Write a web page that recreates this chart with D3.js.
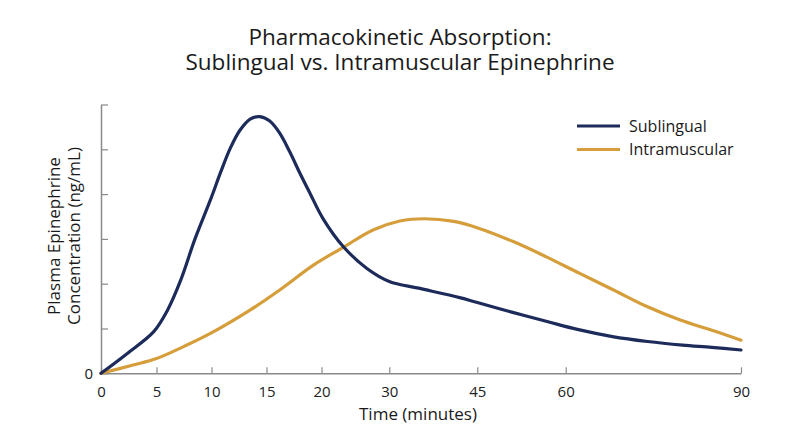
<!DOCTYPE html>
<html><head><meta charset="utf-8">
<script src="https://cdn.jsdelivr.net/npm/d3@7"></script>
<style>
html,body{margin:0;padding:0;background:#fff;}
text{font-family:"Open Sans","Noto Sans",sans-serif;}
</style></head>
<body><svg id="c" width="800" height="447"></svg>
<script>
// ---- data ----
const xTicks = [0, 5, 10, 15, 20, 30, 45, 60, 90];
const yTicks = [0, 1, 2, 3, 4, 5, 6];
const yTickLabels = ["0", "", "", "", "", "", ""];
const seriesNames = ["Sublingual", "Intramuscular"];
const titleLines = ["Pharmacokinetic Absorption:", "Sublingual vs. Intramuscular Epinephrine"];
const sublingualT = [0, 2.4, 4.75, 6, 7.2, 8.5, 9.9, 10.85, 11.7, 12.6, 13.55, 14.4, 15.3, 16.2, 17.1, 18.05, 18.95, 20.2, 23.2, 26.7, 30, 35, 42, 45, 51, 57, 62, 68, 74, 80, 85, 90];
const sublingualV = [0, 0.45, 0.93, 1.41, 2.08, 3.0, 3.87, 4.5, 5.02, 5.43, 5.68, 5.73, 5.63, 5.36, 4.95, 4.46, 4.02, 3.46, 2.83, 2.34, 2.05, 1.9, 1.69, 1.58, 1.36, 1.15, 0.98, 0.82, 0.71, 0.63, 0.58, 0.52];
const intramuscularT = [0, 2.9, 5, 7.5, 9.9, 13.5, 16.2, 19.3, 23.2, 27.6, 31.8, 36, 41, 45.2, 51.1, 56.7, 62.4, 68.2, 73.9, 79.6, 85.3, 90];
const intramuscularV = [0, 0.185, 0.33, 0.6, 0.89, 1.41, 1.86, 2.42, 2.81, 3.2, 3.40, 3.45, 3.39, 3.24, 2.94, 2.60, 2.23, 1.86, 1.49, 1.19, 0.95, 0.74];
const colors = ["#1d2b5a", "#d59e3b"];

// ---- layout ----
const svg = d3.select("#c");
const xPix = [101, 156.5, 211.5, 266.5, 321.5, 389.3, 477.3, 565.7, 741];
const x = d3.scaleLinear().domain(xTicks).range(xPix);
const y = d3.scaleLinear().domain([0, 6]).range([373.3, 104.5]);
const axisColor = "#8a8a8a";
const FONT = '"Open Sans","Noto Sans",sans-serif';

// x axis
const gx = svg.append("g").attr("transform", `translate(0,${y(0)})`)
  .call(d3.axisBottom(x).tickValues(xTicks).tickSizeInner(-6).tickSizeOuter(0).tickPadding(13).tickFormat(d3.format("d")));
gx.select(".domain").attr("stroke", axisColor).attr("stroke-width", 1.5);
gx.selectAll(".tick line").attr("stroke", axisColor).attr("stroke-width", 1.2);
gx.selectAll(".tick text").attr("font-size", 15).attr("fill", "#222").attr("font-family", FONT);

// y axis
const gy = svg.append("g").attr("transform", `translate(${x(0)},0)`)
  .call(d3.axisLeft(y).tickValues(yTicks).tickSizeInner(-7).tickSizeOuter(0).tickPadding(8)
    .tickFormat((d, i) => yTickLabels[i]));
gy.select(".domain").attr("stroke", axisColor).attr("stroke-width", 1.5);
gy.selectAll(".tick line").attr("stroke", axisColor).attr("stroke-width", 1.2);
gy.selectAll(".tick text").attr("font-size", 15).attr("fill", "#222").attr("font-family", FONT);

// lines
const line = d3.line().x(d => x(d[0])).y(d => y(d[1])).curve(d3.curveCatmullRom.alpha(0.5));
const data = [
  d3.zip(sublingualT, sublingualV),
  d3.zip(intramuscularT, intramuscularV)
];
svg.append("path").datum(data[1]).attr("d", line).attr("fill", "none")
  .attr("stroke", colors[1]).attr("stroke-width", 3.2).attr("stroke-linecap", "round").attr("stroke-linejoin", "round");
svg.append("path").datum(data[0]).attr("d", line).attr("fill", "none")
  .attr("stroke", colors[0]).attr("stroke-width", 3.2).attr("stroke-linecap", "round").attr("stroke-linejoin", "round");

// title
titleLines.forEach((t, i) => {
  svg.append("text").attr("x", 400).attr("y", 45 + i * 24.5).attr("text-anchor", "middle")
    .attr("fill", "#1a1a1a").attr("font-size", 22.5).text(t);
});

// axis titles
svg.append("text").attr("x", 418).attr("y", 420).attr("text-anchor", "middle")
  .attr("font-size", 17).attr("fill", "#1a1a1a").text("Time (minutes)");
const yl = svg.append("text").attr("transform", "translate(60,236) rotate(-90)")
  .attr("text-anchor", "middle").attr("font-size", 17).attr("fill", "#1a1a1a");
yl.append("tspan").attr("x", 0).attr("y", 0).text("Plasma Epinephrine");
yl.append("tspan").attr("x", 0).attr("y", 20).text("Concentration (ng/mL)");

// legend
const lg = svg.append("g");
seriesNames.forEach((n, i) => {
  const yy = 126 + i * 23.5;
  lg.append("line").attr("x1", 577).attr("x2", 620).attr("y1", yy).attr("y2", yy)
    .attr("stroke", colors[i]).attr("stroke-width", 3.2);
  lg.append("text").attr("x", 629).attr("y", yy + 5.5).attr("font-size", 16)
    .attr("fill", "#1a1a1a").text(n);
});
</script></body></html>
